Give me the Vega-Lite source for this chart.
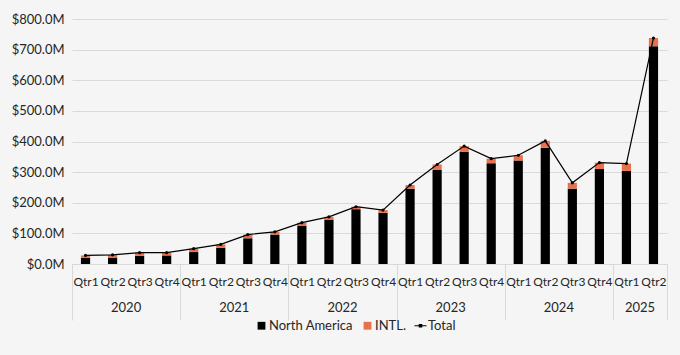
{
  "$schema": "https://vega.github.io/schema/vega-lite/v6.json",
  "width": 595,
  "height": 245,
  "autosize": {"type": "none"},
  "padding": {"left": 72, "top": 19, "right": 13, "bottom": 91},
  "background": "#f5f5f5",
  "config": {
    "view": {"stroke": null},
    "font": "Lato",
    "axis": {"labelFont": "Lato", "labelColor": "#262626", "labelFontSize": 13},
    "axisY": {"title": null, "values": [0,100,200,300,400,500,600,700,800], "labelOverlap": false, "labelExpr": "'$' + format(datum.value, '.1f') + 'M'", "domain": false, "ticks": false, "labelPadding": 8, "gridColor": "#d9d9d9", "gridWidth": 1},
    "legend": {"labelFont": "Lato", "labelColor": "#262626", "labelFontSize": 13}
  },
  "datasets": {
    "stack": [
      {"period": "2020 Qtr1", "series": "North America", "value": 20}, {"period": "2020 Qtr1", "series": "INTL.", "value": 8},
      {"period": "2020 Qtr2", "series": "North America", "value": 21}, {"period": "2020 Qtr2", "series": "INTL.", "value": 9},
      {"period": "2020 Qtr3", "series": "North America", "value": 27}, {"period": "2020 Qtr3", "series": "INTL.", "value": 10},
      {"period": "2020 Qtr4", "series": "North America", "value": 28}, {"period": "2020 Qtr4", "series": "INTL.", "value": 9},
      {"period": "2021 Qtr1", "series": "North America", "value": 39}, {"period": "2021 Qtr1", "series": "INTL.", "value": 11},
      {"period": "2021 Qtr2", "series": "North America", "value": 53}, {"period": "2021 Qtr2", "series": "INTL.", "value": 11},
      {"period": "2021 Qtr3", "series": "North America", "value": 84}, {"period": "2021 Qtr3", "series": "INTL.", "value": 12},
      {"period": "2021 Qtr4", "series": "North America", "value": 96}, {"period": "2021 Qtr4", "series": "INTL.", "value": 9},
      {"period": "2022 Qtr1", "series": "North America", "value": 124}, {"period": "2022 Qtr1", "series": "INTL.", "value": 11},
      {"period": "2022 Qtr2", "series": "North America", "value": 145}, {"period": "2022 Qtr2", "series": "INTL.", "value": 9},
      {"period": "2022 Qtr3", "series": "North America", "value": 179}, {"period": "2022 Qtr3", "series": "INTL.", "value": 8},
      {"period": "2022 Qtr4", "series": "North America", "value": 167}, {"period": "2022 Qtr4", "series": "INTL.", "value": 9},
      {"period": "2023 Qtr1", "series": "North America", "value": 246}, {"period": "2023 Qtr1", "series": "INTL.", "value": 12},
      {"period": "2023 Qtr2", "series": "North America", "value": 307}, {"period": "2023 Qtr2", "series": "INTL.", "value": 18},
      {"period": "2023 Qtr3", "series": "North America", "value": 366}, {"period": "2023 Qtr3", "series": "INTL.", "value": 19},
      {"period": "2023 Qtr4", "series": "North America", "value": 329}, {"period": "2023 Qtr4", "series": "INTL.", "value": 15},
      {"period": "2024 Qtr1", "series": "North America", "value": 338}, {"period": "2024 Qtr1", "series": "INTL.", "value": 17},
      {"period": "2024 Qtr2", "series": "North America", "value": 380}, {"period": "2024 Qtr2", "series": "INTL.", "value": 22},
      {"period": "2024 Qtr3", "series": "North America", "value": 246}, {"period": "2024 Qtr3", "series": "INTL.", "value": 19},
      {"period": "2024 Qtr4", "series": "North America", "value": 310}, {"period": "2024 Qtr4", "series": "INTL.", "value": 21},
      {"period": "2025 Qtr1", "series": "North America", "value": 304}, {"period": "2025 Qtr1", "series": "INTL.", "value": 24},
      {"period": "2025 Qtr2", "series": "North America", "value": 711}, {"period": "2025 Qtr2", "series": "INTL.", "value": 27}
    ],
    "total": [
      {"period": "2020 Qtr1", "series": "Total", "total": 28},
      {"period": "2020 Qtr2", "series": "Total", "total": 30},
      {"period": "2020 Qtr3", "series": "Total", "total": 37},
      {"period": "2020 Qtr4", "series": "Total", "total": 37},
      {"period": "2021 Qtr1", "series": "Total", "total": 50},
      {"period": "2021 Qtr2", "series": "Total", "total": 64},
      {"period": "2021 Qtr3", "series": "Total", "total": 96},
      {"period": "2021 Qtr4", "series": "Total", "total": 105},
      {"period": "2022 Qtr1", "series": "Total", "total": 135},
      {"period": "2022 Qtr2", "series": "Total", "total": 154},
      {"period": "2022 Qtr3", "series": "Total", "total": 187},
      {"period": "2022 Qtr4", "series": "Total", "total": 176},
      {"period": "2023 Qtr1", "series": "Total", "total": 258},
      {"period": "2023 Qtr2", "series": "Total", "total": 325},
      {"period": "2023 Qtr3", "series": "Total", "total": 385},
      {"period": "2023 Qtr4", "series": "Total", "total": 344},
      {"period": "2024 Qtr1", "series": "Total", "total": 355},
      {"period": "2024 Qtr2", "series": "Total", "total": 402},
      {"period": "2024 Qtr3", "series": "Total", "total": 265},
      {"period": "2024 Qtr4", "series": "Total", "total": 331},
      {"period": "2025 Qtr1", "series": "Total", "total": 328},
      {"period": "2025 Qtr2", "series": "Total", "total": 738}
    ]
  },
  "layer": [
    {
      "data": {"name": "stack"},
      "mark": {"type": "bar", "width": {"band": 0.34}},
      "encoding": {
        "x": {
          "field": "period", "type": "nominal",
          "scale": {"domain": ["2020 Qtr1","2020 Qtr2","2020 Qtr3","2020 Qtr4","2021 Qtr1","2021 Qtr2","2021 Qtr3","2021 Qtr4","2022 Qtr1","2022 Qtr2","2022 Qtr3","2022 Qtr4","2023 Qtr1","2023 Qtr2","2023 Qtr3","2023 Qtr4","2024 Qtr1","2024 Qtr2","2024 Qtr3","2024 Qtr4","2025 Qtr1","2025 Qtr2"], "paddingInner": 0, "paddingOuter": 0},
          "axis": {
            "title": null, "orient": "bottom", "grid": false,
            "domain": true, "domainColor": "#d9d9d9", "domainWidth": 1,
            "ticks": true, "tickBand": "extent", "tickSize": 56, "tickWidth": 1,
            "tickColor": {"condition": {"test": "!datum.value || datum.index < 0 || indexof(datum.value + '', 'Qtr4') >= 0 || datum.value === '2025 Qtr2'", "value": "#d9d9d9"}, "value": "rgba(0,0,0,0)"},
            "labelExpr": "datum.value ? slice(datum.value + '', 5) : ''", "labelAngle": 0, "labelPadding": -44, "labelFontSize": 12
          }
        },
        "y": {
          "field": "value", "type": "quantitative", "stack": "zero",
          "scale": {"domain": [0, 800]}
        },
        "color": {
          "field": "series", "type": "nominal",
          "scale": {"domain": ["North America", "INTL.", "Total"], "range": ["#000000", "#e8714c", "#000000"]},
          "legend": {
            "orient": "none", "legendX": 183, "legendY": 300, "direction": "horizontal", "title": null,
            "symbolSize": 144, "labelOffset": 1, "columnPadding": 8, "padding": 0, "symbolStrokeWidth": 0,
            "encode": {"symbols": {"update": {"shape": {"signal": "datum.value === 'Total' ? 'M-1,-0.09H1V0.09H-1ZM-0.3,-0.3H0.3V0.3H-0.3Z' : 'M-0.65,-0.65H0.65V0.65H-0.65Z'"}}}}
          }
        },
        "order": {"field": "series", "sort": "descending"}
      }
    },
    {
      "data": {"name": "total"},
      "mark": {"type": "line", "color": "#000000", "strokeWidth": 1.2},
      "encoding": {
        "x": {
          "field": "period", "type": "nominal",
          "axis": {
            "title": null, "orient": "bottom", "grid": false, "domain": false, "ticks": false,
            "labelPadding": 37, "labelOffset": -13.5, "labelAngle": 0,
            "labelExpr": "(datum.value === '2025 Qtr2' || indexof(datum.value + '', 'Qtr3') >= 0) ? slice(datum.value + '', 0, 4) : ''"
          }
        },
        "y": {"field": "total", "type": "quantitative"}
      }
    },
    {
      "data": {"name": "total"},
      "mark": {"type": "point", "filled": true, "size": 10, "opacity": 1, "shape": "circle", "color": "#000000"},
      "encoding": {
        "x": {"field": "period", "type": "nominal", "axis": null},
        "y": {"field": "total", "type": "quantitative"}
      }
    }
  ],
  "resolve": {"axis": {"x": "independent"}}
}
